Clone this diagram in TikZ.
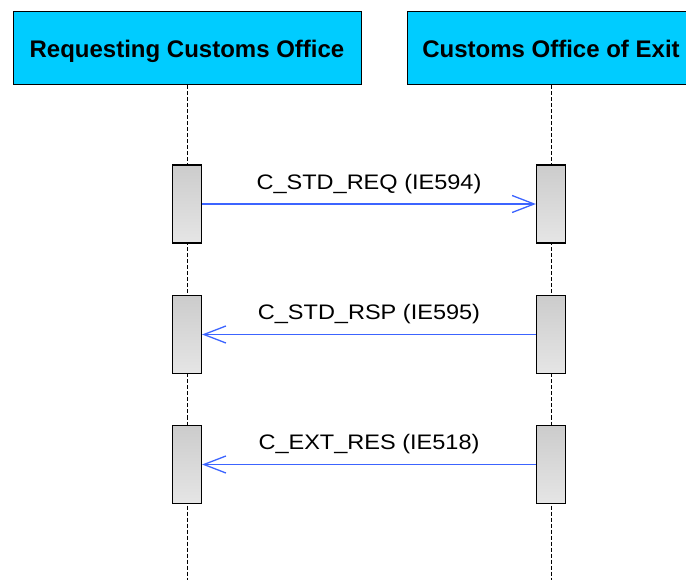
\documentclass[tikz,border=0pt]{standalone}
\usepackage{fontspec}
\setmainfont{Liberation Sans}
\newfontfamily\widesans[FakeStretch=1.12]{Liberation Sans}
\usepackage{tikz}
\usetikzlibrary{arrows.meta,positioning,calc}
\definecolor{head cyan}{RGB}{0,204,255}
\definecolor{msg blue}{RGB}{60,100,255}
\tikzstyle{head} = [draw=black,line width=1pt,fill=head cyan,rectangle,minimum height=73pt,inner sep=0pt,text height=18pt,text depth=0pt,font=\fontsize{24}{28}\selectfont\bfseries]
\tikzstyle{bar} = [draw=black,line width=1.2pt,rectangle,top color=black!20,bottom color=black!10,minimum width=29pt,minimum height=78pt,inner sep=0pt]
\tikzstyle{life} = [line width=1pt,dash pattern=on 4pt off 2pt]
\tikzstyle{msg} = [msg blue,line width=1.3pt,-{Straight Barb[length=22pt,width=17pt,line width=1.3pt]}]
\tikzstyle{lbl} = [black,font=\widesans\fontsize{21}{24}\selectfont,inner sep=0pt,above=10pt]

\begin{document}
\begin{tikzpicture}[x=1pt,y=-1pt]
		\useasboundingbox (0,0) rectangle (686,580);
		\clip (0,0) rectangle (686,580);
		\node[head,minimum width=348pt] (req) at (187,48.5) {Requesting Customs Office};
		\node[head,minimum width=288pt] (ex) at (551,48.5) {Customs Office of Exit};
		\coordinate (reqend) at (187,580);
		\coordinate (exend) at (551,580);
		\draw[life] (req.south) to (reqend);
		\draw[life] (ex.south) to (exend);
		
		\node[bar] (r1) at (187,204) {};
		\node[bar] (e1) at (551,204) {};
		\node[bar] (r2) at (187,334.5) {};
		\node[bar] (e2) at (551,334.5) {};
		\node[bar] (r3) at (187,464.5) {};
		\node[bar] (e3) at (551,464.5) {};
		
		\draw[msg] (r1.east) to node[lbl] {C\_STD\_REQ (IE594)} (e1.west);
		\draw[msg] (e2.west) to node[lbl] {C\_STD\_RSP (IE595)} (r2.east);
		\draw[msg] (e3.west) to node[lbl] {C\_EXT\_RES (IE518)} (r3.east);
	\end{tikzpicture}
\end{document}
